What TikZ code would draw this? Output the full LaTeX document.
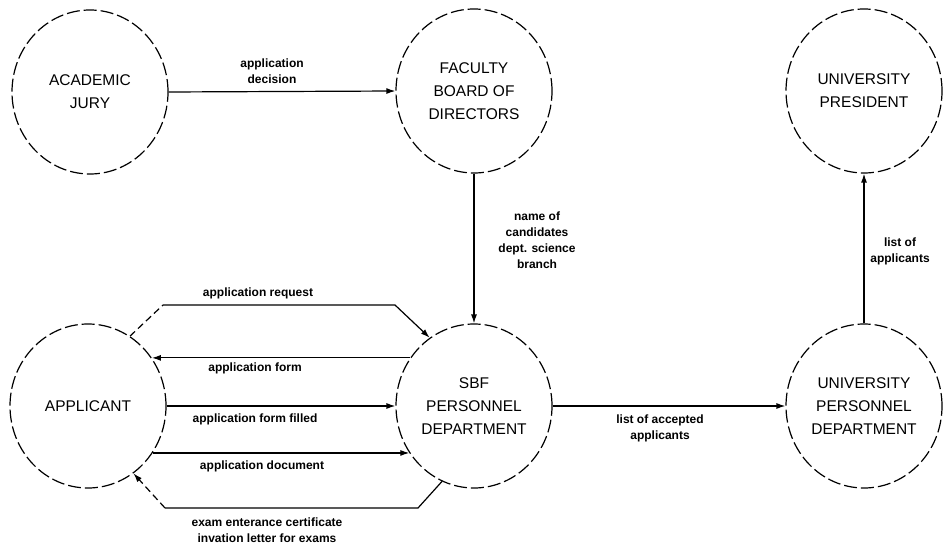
\documentclass[tikz,border=0pt]{standalone}
\usepackage{fontspec}
\setmainfont{Liberation Sans}
\usetikzlibrary{arrows.meta,shapes.geometric}
\begin{document}
\begin{tikzpicture}[x=1pt,y=-1pt,
  ent/.style={ellipse, draw, dash pattern=on 13pt off 4pt, line width=1.2pt,
    minimum width=156pt, minimum height=164pt, inner sep=0pt, align=center,
    font=\fontsize{15.5}{23}\selectfont},
  wire/.style={line width=1.2pt},
  brokenline/.style={dash pattern=on 7pt off 4pt},
  flow/.style={line width=1.2pt, -{Latex[length=9pt,width=6pt]}},
  lbl/.style={font=\fontsize{12}{16}\selectfont\bfseries, align=center, inner sep=0pt}]
\useasboundingbox (0,0) rectangle (944,553);
% entities
\node[ent] (AJ)   at (90,92)   {ACADEMIC\\JURY};
\node[ent] (FB)   at (474,91)  {FACULTY\\BOARD OF\\DIRECTORS};
\node[ent] (UPR)  at (864,91)  {UNIVERSITY\\PRESIDENT};
\node[ent] (APP)  at (88,406)  {APPLICANT};
\node[ent] (SBF)  at (474,406) {SBF\\PERSONNEL\\DEPARTMENT};
\node[ent] (UPD)  at (864,406) {UNIVERSITY\\PERSONNEL\\DEPARTMENT};
% top row
\draw[flow] (AJ.east) -- (FB.west);
\node[lbl] (l1) at (272,71) {application\\decision};
\draw[flow] (FB.south) -- (SBF.north);
\node[lbl] (l2) at (537,240) {name of\\candidates\\dept. science\\branch};
\draw[flow] (UPD.north) -- (UPR.south);
\node[lbl] (l3) at (900,251) {list of\\applicants};
\draw[flow] (SBF.east) -- (UPD.west);
\node[lbl] (l4) at (660,428) {list of accepted\\applicants};
% applicant <-> SBF
\coordinate (r1) at (163,305);
\coordinate (r2) at (395,305);
\draw[wire, brokenline] (APP.59) -- (r1);
\draw[flow] (r1) -- (r2) -- (SBF.123);
\node[lbl] (l5) at (258,293) {application request};
\draw[flow] (SBF.143) -- (APP.37);
\node[lbl] (l6) at (255,368) {application form};
\draw[flow] (APP.east) -- (SBF.west);
\node[lbl] (l7) at (255,419) {application form filled};
\draw[flow] (APP.-36) -- (SBF.216);
\node[lbl] (l8) at (262,466) {application document};
\coordinate (b2) at (418,508);
\coordinate (b1) at (165,508);
\draw[wire] (SBF.247) -- (b2) -- (b1);
\draw[flow, brokenline] (b1) -- (APP.304);
\node[lbl] (l9) at (267,530) {exam enterance certificate\\invation letter for exams};
\end{tikzpicture}
\end{document}
